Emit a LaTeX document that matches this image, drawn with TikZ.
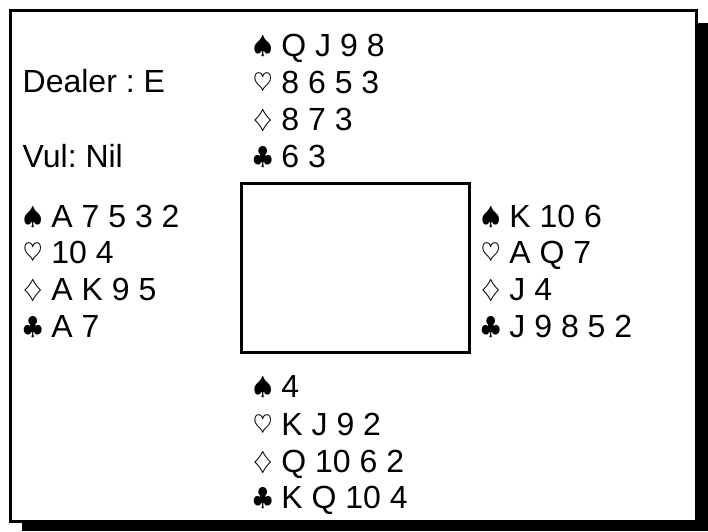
\documentclass[tikz,border=0pt]{standalone}
\usepackage{fontspec}
\setmainfont{Liberation Sans}
\usetikzlibrary{positioning}
\newcommand{\suit}[1]{\raisebox{3pt}{\fontsize{36}{36}\selectfont$#1$}}
\tikzset{
  hand/.style={anchor=base west, inner sep=0pt, font=\fontsize{32}{36}\selectfont\frenchspacing},
  boxline/.style={draw, line width=3pt}
}

\begin{document}
\begin{tikzpicture}[x=1pt, y=-1pt]
  \useasboundingbox (0,0) rectangle (708,531);
  % frame and its shadow
  \fill (22,23) rectangle (708,531);
  \draw[boxline, fill=white] (10.5,10.5) rectangle (696.5,521);
  % table
  \node[boxline, minimum width=228pt, minimum height=169pt, anchor=north west] (table) at (239.5,181.5) {};
  % board info
  \node[hand] (dealer) at (22.5,92) {Dealer : E};
  \node[hand] (vul) at (22.5,167) {Vul: Nil};
  % north
  \node[hand] (N1) at (253,56) {\suit\spadesuit{} Q J 9 8};
  \node[hand] (N2) at (253,93) {\suit\heartsuit{} 8 6 5 3};
  \node[hand] (N3) at (253,130) {\suit\diamondsuit{} 8 7 3};
  \node[hand] (N4) at (253,167) {\suit\clubsuit{} 6 3};
  % west
  \node[hand] (W1) at (23,227) {\suit\spadesuit{} A 7 5 3 2};
  \node[hand] (W2) at (23,263) {\suit\heartsuit{} 10 4};
  \node[hand] (W3) at (23,300) {\suit\diamondsuit{} A K 9 5};
  \node[hand] (W4) at (23,337) {\suit\clubsuit{} A 7};
  % east
  \node[hand] (E1) at (481,227) {\suit\spadesuit{} K 10 6};
  \node[hand] (E2) at (481,263) {\suit\heartsuit{} A Q 7};
  \node[hand] (E3) at (481,300) {\suit\diamondsuit{} J 4};
  \node[hand] (E4) at (481,337) {\suit\clubsuit{} J 9 8 5 2};
  % south
  \node[hand] (S1) at (253,397) {\suit\spadesuit{} 4};
  \node[hand] (S2) at (253,435) {\suit\heartsuit{} K J 9 2};
  \node[hand] (S3) at (253,472) {\suit\diamondsuit{} Q 10 6 2};
  \node[hand] (S4) at (253,508) {\suit\clubsuit{} K Q 10 4};
\end{tikzpicture}
\end{document}
